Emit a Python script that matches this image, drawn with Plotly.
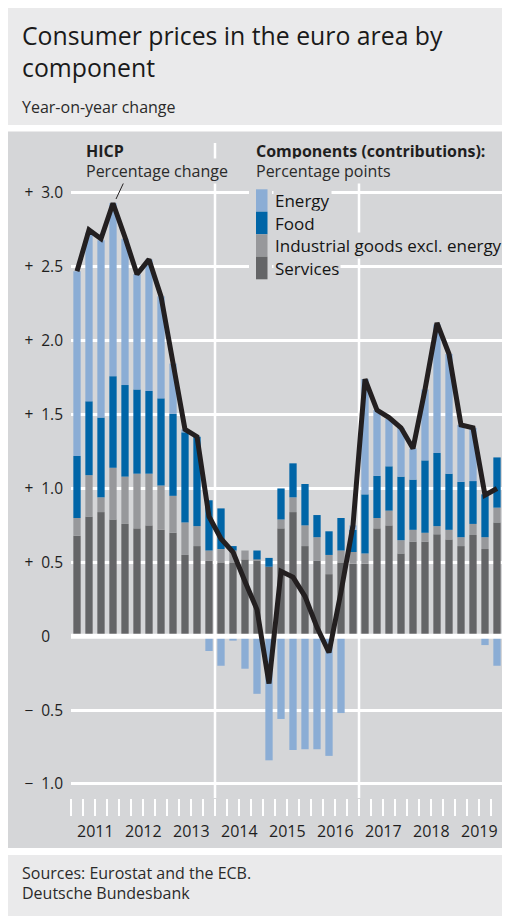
import plotly.graph_objects as go

# ---------------- data ----------------
years = ["2011", "2012", "2013", "2014", "2015", "2016", "2017", "2018", "2019"]
quarters = ["Q1", "Q2", "Q3", "Q4"]

services = [0.68, 0.81, 0.84, 0.79, 0.76, 0.73, 0.75, 0.72, 0.70, 0.55, 0.61, 0.51,
            0.50, 0.50, 0.52, 0.51, 0.47, 0.73, 0.84, 0.61, 0.51, 0.42, 0.50, 0.49,
            0.49, 0.73, 0.75, 0.56, 0.64, 0.64, 0.69, 0.655, 0.61, 0.685, 0.59, 0.77]
industrial = [0.12, 0.28, 0.10, 0.35, 0.32, 0.37, 0.35, 0.30, 0.25, 0.22, 0.135, 0.07,
              0.09, 0.08, 0.06, 0.01, 0.00, 0.06, 0.10, 0.14, 0.16, 0.13, 0.08, 0.08,
              0.07, 0.07, 0.10, 0.09, 0.08, 0.06, 0.055, 0.065, 0.06, 0.075, 0.08, 0.10]
food = [0.42, 0.50, 0.54, 0.62, 0.62, 0.57, 0.56, 0.59, 0.555, 0.61, 0.605, 0.34,
        0.275, 0.03, 0.00, 0.06, 0.06, 0.21, 0.23, 0.28, 0.15, 0.16, 0.22, 0.15,
        0.40, 0.285, 0.30, 0.43, 0.34, 0.49, 0.495, 0.38, 0.375, 0.29, 0.29, 0.34]
energy = [1.25, 1.14, 1.20, 1.17, 0.99, 0.78, 0.89, 0.69, 0.34, 0.02, 0.00, -0.10,
          -0.20, -0.03, -0.22, -0.39, -0.84, -0.56, -0.77, -0.765, -0.765, -0.81, -0.52, 0.03,
          0.78, 0.445, 0.32, 0.33, 0.21, 0.48, 0.87, 0.81, 0.385, 0.36, -0.06, -0.20]
hicp = [2.47, 2.75, 2.69, 2.93, 2.70, 2.45, 2.55, 2.30, 1.85, 1.40, 1.35, 0.81,
        0.66, 0.57, 0.37, 0.18, -0.32, 0.44, 0.40, 0.27, 0.06, -0.11, 0.30, 0.75,
        1.74, 1.53, 1.48, 1.41, 1.27, 1.67, 2.12, 1.91, 1.43, 1.41, 0.955, 1.00]

y_tickvals = [-1.0, -0.5, 0, 0.5, 1.0, 1.5, 2.0, 2.5, 3.0]
y_ticktext = ["\u2212\u20021.0", "\u2212\u20020.5", "0\u2008\u2007", "+\u20020.5", "+\u20021.0",
              "+\u20021.5", "+\u20022.0", "+\u20022.5", "+\u20023.0"]

series_names = ["Services", "Industrial goods excl. energy", "Food", "Energy"]
series_vals = [services, industrial, food, energy]
series_cols = ["#646567", "#97989b", "#0065a7", "#8badd5"]

# ---------------- layout geometry (screen pixels; page has an 8px body margin) ----------------
OFF = 8
SW, SH = 510, 916
L, R, T, B = 71, 503, 186, 798          # plot area in screen px
C_CHART = "#d5d6d8"
C_BOX = "#eaeaeb"
TXT = "#1f1f1f"
FONT = "Open Sans"


def px(xs):
    return (xs - L) / (R - L)


def py(ys):
    return (B - ys) / (B - T)


labels = [f"{y} {q}" for y in years for q in quarters]
xpos = list(range(len(labels)))

fig = go.Figure()
for name, vals, col in zip(series_names, series_vals, series_cols):
    fig.add_trace(go.Bar(x=xpos, y=vals, name=name, customdata=labels,
                         marker=dict(color=col, line=dict(width=0)),
                         hovertemplate="%{customdata}: %{y}<extra>" + name + "</extra>"))

# zero line drawn over bars but under the HICP line
fig.add_trace(go.Scatter(x=[-0.5, len(labels) - 0.5], y=[0, 0], mode="lines",
                         line=dict(color="white", width=5), hoverinfo="skip"))
fig.add_trace(go.Scatter(x=xpos, y=hicp, mode="lines", name="HICP", customdata=labels,
                         line=dict(color="#231f20", width=5),
                         hovertemplate="%{customdata}: %{y}<extra>HICP</extra>"))

year_bounds = [i - 0.5 for i in range(0, len(labels) + 1, 4)]
quarter_bounds = [i - 0.5 for i in range(0, len(labels) + 1)]

FW, FH = SW - OFF, SH - OFF
fig.update_layout(
    width=FW, height=FH,
    margin=dict(l=L - OFF, r=FW - (R - OFF), t=T - OFF, b=FH - (B - OFF), pad=0),
    paper_bgcolor="white", plot_bgcolor="rgba(0,0,0,0)",
    barmode="relative", bargap=0.39,
    showlegend=False,
    font=dict(family=FONT, color=TXT),
)
fig.update_xaxes(
    range=[-0.5, len(labels) - 0.5], showgrid=False, zeroline=False, showline=False,
    tickmode="array", tickvals=year_bounds, ticktext=[""] * len(year_bounds),
    ticks="outside", ticklen=40, tickwidth=2, tickcolor="white",
    minor=dict(tickmode="array", tickvals=quarter_bounds, ticks="outside",
               ticklen=17, tickwidth=2, tickcolor="white", showgrid=False),
)
fig.update_yaxes(
    range=[-1.095, 3.047], tickmode="array", tickvals=y_tickvals, ticktext=y_ticktext,
    showgrid=True, gridcolor="white", gridwidth=2.5, zeroline=False, showline=False,
    ticks="", ticklabelstandoff=7, tickfont=dict(family=FONT, size=15.5, color=TXT),
)

shapes = []
# background boxes
shapes.append(dict(type="rect", xref="paper", yref="paper", x0=px(7), x1=px(SW), y0=py(7), y1=py(125),
                   fillcolor=C_BOX, line=dict(width=0), layer="below"))
shapes.append(dict(type="rect", xref="paper", yref="paper", x0=px(7), x1=px(SW), y0=py(131.5), y1=py(848),
                   fillcolor=C_CHART, line=dict(width=0), layer="below"))
shapes.append(dict(type="rect", xref="paper", yref="paper", x0=px(7), x1=px(SW), y0=py(855), y1=py(SH),
                   fillcolor=C_BOX, line=dict(width=0), layer="below"))
# vertical separators (start of 2014 and 2017)
for xb in [year_bounds[3], year_bounds[6]]:
    shapes.append(dict(type="line", xref="x", yref="paper", x0=xb, x1=xb, y0=py(B), y1=py(143),
                       line=dict(color="white", width=2.5), layer="below"))
# legend swatch strip with mask
shapes.append(dict(type="rect", xref="paper", yref="paper", x0=px(249), x1=px(272), y0=py(186), y1=py(282),
                   fillcolor=C_CHART, line=dict(width=0), layer="above"))
sw_tops = [189.3, 211.7, 234.3, 256.7, 279.3]
for i, col in enumerate(["#8badd5", "#0065a7", "#97989b", "#646567"]):
    shapes.append(dict(type="rect", xref="paper", yref="paper", x0=px(256), x1=px(267.5),
                       y0=py(sw_tops[i + 1]), y1=py(sw_tops[i]),
                       fillcolor=col, line=dict(width=0), layer="above"))
# leader line for HICP label
shapes.append(dict(type="line", xref="paper", yref="paper", x0=px(123.5), x1=px(116), y0=py(183), y1=py(199),
                   line=dict(color="#231f20", width=1), layer="above"))

ann = []


def text(xs, ys, s, size, color=TXT, bg=None, bold=False):
    a = dict(xref="paper", yref="paper", x=px(xs - 2), y=py(ys), xanchor="left", yanchor="middle",
             align="left", text=("<b>%s</b>" % s) if bold else s, showarrow=False,
             font=dict(family=FONT, size=size, color=color), borderpad=1)
    if bg:
        a["bgcolor"] = bg
    ann.append(a)


text(22, 51, "Consumer prices in the euro area by<br>component", 24.8, color="#1a1a1a")
text(22, 107, "Year-on-year change", 16, color="#2a2a2a")

text(86, 151, "HICP", 16, bold=True, bg=C_CHART)
text(86, 171, "Percentage change", 16, color="#2a2a2a", bg=C_CHART)
text(256, 151, "Components (contributions):", 16, bold=True, bg=C_CHART)
text(256, 171, "Percentage points", 16, color="#2a2a2a", bg=C_CHART)
for yy, nm in zip([200, 223, 245.5, 268], ["Energy", "Food", "Industrial goods excl. energy", "Services"]):
    text(275, yy, nm, 17, color="#141414", bg=C_CHART)

for k, yr in enumerate(years):
    ann.append(dict(xref="x", yref="paper", x=4 * k + 1.5, y=py(831), xanchor="center", yanchor="middle",
                    text=yr, showarrow=False, font=dict(family=FONT, size=16, color=TXT)))

text(22, 873, "Sources: Eurostat and the ECB.", 16, color="#2a2a2a")
text(22, 893.5, "Deutsche Bundesbank", 16, color="#2a2a2a")

fig.update_layout(shapes=shapes, annotations=ann)
fig.write_html("out.html")
